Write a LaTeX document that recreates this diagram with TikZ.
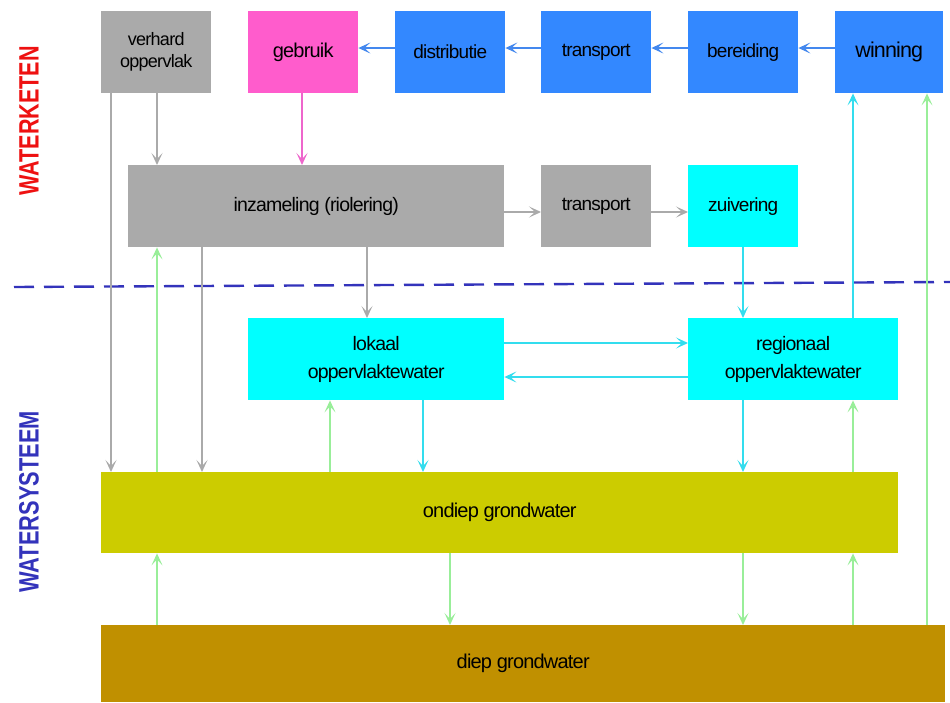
\documentclass[tikz,border=0pt]{standalone}
\usepackage{fontspec}
\setmainfont{Liberation Sans}
\newfontfamily\tightfont[LetterSpace=-4]{Liberation Sans}
\usetikzlibrary{arrows.meta}
\definecolor{cblue}{RGB}{51,136,255}
\definecolor{cbluearr}{RGB}{68,136,238}
\definecolor{cgray}{RGB}{170,170,170}
\definecolor{cpink}{RGB}{255,92,204}
\definecolor{cpinkarr}{RGB}{238,102,204}
\definecolor{ccyan}{RGB}{0,255,255}
\definecolor{ccyanarr}{RGB}{51,221,238}
\definecolor{cgreenarr}{RGB}{153,238,153}
\definecolor{condiep}{RGB}{204,204,0}
\definecolor{cdiep}{RGB}{192,144,0}
\definecolor{cdash}{RGB}{51,51,187}
\definecolor{cred}{RGB}{238,17,17}
\tikzset{
  box/.style={draw=none, inner sep=0pt, anchor=north west, align=center,
    font=\tightfont\fontsize{19}{21}\selectfont},
  arr/.style={line width=1.4pt, -{Stealth[length=12pt,width=11pt,inset=6pt]}},
  grayarr/.style={arr, draw=cgray},
  bluearr/.style={arr, draw=cbluearr},
  pinkarr/.style={arr, draw=cpinkarr},
  cyanarr/.style={arr, draw=ccyanarr},
  greenarr/.style={arr, draw=cgreenarr},
  sidelabel/.style={rotate=90, font=\bfseries\fontsize{28}{30}\selectfont}
}
\begin{document}
\begin{tikzpicture}[x=1pt,y=-1pt]
\useasboundingbox (0,0) rectangle (950,702);
\fill[white] (0,0) rectangle (950,702);

% column / row helpers
\foreach \c in {111,157,202,302,330,367,423,450,743,853,927}{\coordinate (c\c) at (\c,0);}
\coordinate (r1) at (0,48);
\coordinate (r2) at (0,212);
\coordinate (r3a) at (0,343);
\coordinate (r3b) at (0,377);

% dashed separator
\coordinate (dL) at (14,287);
\coordinate (dR) at (950,282);
\draw[cdash, line width=2.4pt, dash pattern=on 20pt off 10pt] (dL) -- (dR);

% boxes
\node[box, fill=cgray, minimum width=110pt, minimum height=82pt, font=\tightfont\fontsize{18}{22}\selectfont] (verhard) at (101,11) {verhard\\oppervlak};
\node[box, fill=cpink, minimum width=110pt, minimum height=82pt, font=\tightfont\fontsize{20}{21}\selectfont] (gebruik) at (248,11) {gebruik};
\node[box, fill=cblue, minimum width=110pt, minimum height=82pt] (distributie) at (395,11) {distributie};
\node[box, fill=cblue, minimum width=110pt, minimum height=82pt] (transportA) at (541,11) {transport};
\node[box, fill=cblue, minimum width=110pt, minimum height=82pt] (bereiding) at (688,11) {bereiding};
\node[box, fill=cblue, minimum width=108pt, minimum height=82pt, font=\tightfont\fontsize{21.5}{21}\selectfont] (winning) at (835,11) {winning};

\node[box, fill=cgray, minimum width=376pt, minimum height=82pt, font=\tightfont\fontsize{19.5}{21}\selectfont] (inz) at (128,165) {inzameling (riolering)};
\node[box, fill=cgray, minimum width=110pt, minimum height=82pt] (transportB) at (541,165) {transport};
\node[box, fill=ccyan, minimum width=110pt, minimum height=82pt] (zuivering) at (688,165) {zuivering};

\node[box, fill=ccyan, minimum width=256pt, minimum height=82pt, font=\tightfont\fontsize{19.5}{28}\selectfont] (lokaal) at (248,318) {lokaal\\oppervlaktewater};
\node[box, fill=ccyan, minimum width=210pt, minimum height=82pt, font=\tightfont\fontsize{19.5}{28}\selectfont] (regionaal) at (688,318) {regionaal\\oppervlaktewater};

\node[box, fill=condiep, minimum width=797pt, minimum height=81pt, font=\tightfont\fontsize{20}{21}\selectfont] (ondiep) at (101,472) {ondiep grondwater};
\node[box, fill=cdiep, minimum width=844pt, minimum height=77pt, font=\tightfont\fontsize{20}{21}\selectfont] (diep) at (101,625) {diep grondwater};

% side labels
\node[sidelabel, text=cred] (wk) at (29,121) {\scalebox{0.77}[1]{WATERKETEN}};
\node[sidelabel, text=cdash] (ws) at (29,502) {\scalebox{0.78}[1]{WATERSYSTEEM}};

% top row arrows
\draw[bluearr] (winning.west |- r1) -- (bereiding.east |- r1);
\draw[bluearr] (bereiding.west |- r1) -- (transportA.east |- r1);
\draw[bluearr] (transportA.west |- r1) -- (distributie.east |- r1);
\draw[bluearr] (distributie.west |- r1) -- (gebruik.east |- r1);

% second row arrows
\draw[grayarr] (inz.east |- r2) -- (transportB.west |- r2);
\draw[grayarr] (transportB.east |- r2) -- (zuivering.west |- r2);

% surface water arrows
\draw[cyanarr] (lokaal.east |- r3a) -- (regionaal.west |- r3a);
\draw[cyanarr] (regionaal.west |- r3b) -- (lokaal.east |- r3b);

% vertical arrows
\draw[grayarr] (verhard.south -| c111) -- (ondiep.north -| c111);
\draw[grayarr] (verhard.south -| c157) -- (inz.north -| c157);
\draw[pinkarr] (gebruik.south -| c302) -- (inz.north -| c302);
\draw[greenarr] (ondiep.north -| c157) -- (inz.south -| c157);
\draw[grayarr] (inz.south -| c202) -- (ondiep.north -| c202);
\draw[grayarr] (inz.south -| c367) -- (lokaal.north -| c367);
\draw[cyanarr] (zuivering.south -| c743) -- (regionaal.north -| c743);
\draw[cyanarr] (regionaal.north -| c853) -- (winning.south -| c853);
\draw[greenarr] (diep.north -| c927) -- (winning.south -| c927);
\draw[greenarr] (ondiep.north -| c330) -- (lokaal.south -| c330);
\draw[cyanarr] (lokaal.south -| c423) -- (ondiep.north -| c423);
\draw[cyanarr] (regionaal.south -| c743) -- (ondiep.north -| c743);
\draw[greenarr] (ondiep.north -| c853) -- (regionaal.south -| c853);
\draw[greenarr] (diep.north -| c157) -- (ondiep.south -| c157);
\draw[greenarr] (ondiep.south -| c450) -- (diep.north -| c450);
\draw[greenarr] (ondiep.south -| c743) -- (diep.north -| c743);
\draw[greenarr] (diep.north -| c853) -- (ondiep.south -| c853);
\end{tikzpicture}
\end{document}
